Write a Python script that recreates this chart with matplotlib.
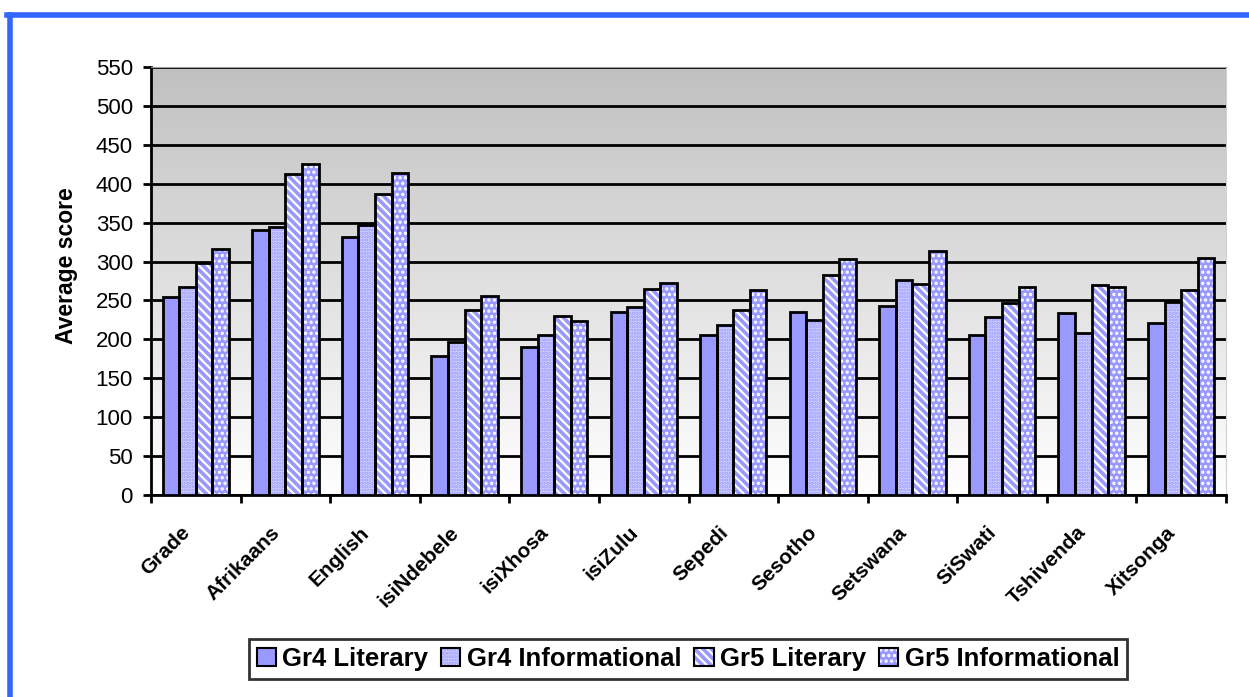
import matplotlib
matplotlib.use('Agg')
import matplotlib.pyplot as plt
from matplotlib.patches import Patch
from matplotlib.lines import Line2D
from matplotlib.legend_handler import HandlerTuple
import matplotlib.transforms as mtransforms
import numpy as np

languages = ['Grade', 'Afrikaans', 'English', 'isiNdebele', 'isiXhosa', 'isiZulu',
             'Sepedi', 'Sesotho', 'Setswana', 'SiSwati', 'Tshivenda', 'Xitsonga']
series_names = ['Gr4 Literary', 'Gr4 Informational', 'Gr5 Literary', 'Gr5 Informational']
gr4_literary = [255, 340, 331, 179, 190, 235, 206, 235, 243, 205, 234, 221]
gr4_informational = [267, 345, 347, 196, 205, 241, 219, 225, 276, 229, 208, 248]
gr5_literary = [298, 412, 387, 238, 230, 265, 238, 283, 271, 247, 270, 263]
gr5_informational = [316, 425, 414, 256, 223, 273, 264, 303, 314, 267, 267, 304]
y_ticks = list(range(0, 551, 50))

plt.rcParams['font.family'] = ['Liberation Sans', 'DejaVu Sans']
plt.rcParams['hatch.linewidth'] = 1.6

fig = plt.figure(figsize=(12.49, 6.97), dpi=100)
ax = fig.add_axes([151 / 1249, 1 - 495 / 697, (1226 - 151) / 1249, (495 - 67) / 697])

# blue frame (left and top only)
fig.add_artist(Line2D([9.5 / 1249, 9.5 / 1249], [0, 1 - 14.5 / 697], transform=fig.transFigure,
                      color='#3366ff', lw=4))
fig.add_artist(Line2D([7 / 1249, 1], [1 - 14.5 / 697, 1 - 14.5 / 697], transform=fig.transFigure,
                      color='#3366ff', lw=4))

# gray-to-white background
grad = np.linspace(0, 1, 256).reshape(-1, 1)
ax.imshow(grad, extent=[0, 1, 0, 1], transform=ax.transAxes, aspect='auto',
          cmap=matplotlib.colors.LinearSegmentedColormap.from_list('bg', ['white', '#c0c0c0']),
          origin='lower', zorder=0)

x = np.arange(len(languages))
w = 0.185
styles = [
    dict(facecolor='#9999ff', hatch=None, hc='#9999ff'),
    dict(facecolor='#d4d4ff', hatch='.....', hc='#9999ff'),
    dict(facecolor='#9999ff', hatch='\\\\\\\\', hc='white'),
    dict(facecolor='#9999ff', hatch='...', hc='white'),
]
data = [gr4_literary, gr4_informational, gr5_literary, gr5_informational]
handles = []
for i, (vals, st) in enumerate(zip(data, styles)):
    pos = x + (i - 1.5) * w
    ax.bar(pos, vals, w, facecolor=st['facecolor'], edgecolor=st['hc'], hatch=st['hatch'],
           linewidth=0, zorder=3)
    ax.bar(pos, vals, w, fill=False, edgecolor='black', linewidth=2, zorder=4)
    handles.append(Patch(facecolor=st['facecolor'], edgecolor=st['hc'], hatch=st['hatch'],
                         linewidth=0))

ax.set_xlim(-0.5, len(languages) - 0.5)
ax.set_ylim(0, 550)
ax.set_yticks(y_ticks)
ax.tick_params(axis='y', labelsize=16, length=6, width=2, direction='out', pad=7)
ax.set_xticks(np.arange(len(languages) + 1) - 0.5)
ax.set_xticklabels([])
ax.tick_params(axis='x', length=6, width=2, direction='out')
ax.set_xticks(x, minor=True)
ax.set_xticklabels(languages, minor=True, rotation=45, ha='right', rotation_mode='anchor',
                   fontsize=15, fontweight='bold')
ax.tick_params(axis='x', which='minor', length=0, pad=20)
shift = mtransforms.ScaledTranslation(-15 / 100, 0, fig.dpi_scale_trans)
for lab in ax.get_xticklabels(minor=True):
    lab.set_transform(lab.get_transform() + shift)

ax.grid(axis='y', color='black', linewidth=2, zorder=1)
ax.set_axisbelow(True)
ax.spines['left'].set_linewidth(2)
ax.spines['bottom'].set_linewidth(2)
ax.spines['top'].set_color('#a0a0a0')
ax.spines['right'].set_color('#d0d0d0')
ax.set_ylabel('Average score', fontsize=16.5, fontweight='bold')
ax.yaxis.set_label_coords(-0.068, 0.537)

leg_handles = [(h, Patch(fill=False, edgecolor='black', linewidth=1.5)) for h in handles]
leg = fig.legend(leg_handles, series_names, loc='center', bbox_to_anchor=(688 / 1249, 1 - 659 / 697),
                 ncol=4, frameon=True, fancybox=False, edgecolor='black',
                 prop={'weight': 'bold', 'size': 18.5}, handlelength=0.75, handleheight=0.65,
                 handletextpad=0.25, columnspacing=0.5, borderpad=0.3,
                 handler_map={tuple: HandlerTuple(ndivide=1)})
leg.get_frame().set_linewidth(2)

fig.savefig('out.png', dpi=100)
